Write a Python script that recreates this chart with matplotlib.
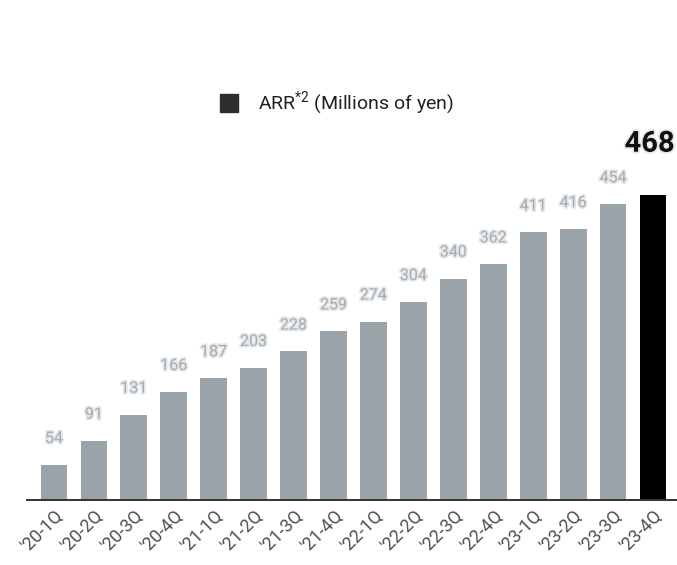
import matplotlib
matplotlib.use("Agg")
import matplotlib.pyplot as plt
import matplotlib.patheffects as pe
from matplotlib.patches import Rectangle

quarters = ["'20-1Q", "'20-2Q", "'20-3Q", "'20-4Q", "'21-1Q", "'21-2Q", "'21-3Q", "'21-4Q",
            "'22-1Q", "'22-2Q", "'22-3Q", "'22-4Q", "'23-1Q", "'23-2Q", "'23-3Q", "'23-4Q"]
arr = [54, 91, 131, 166, 187, 203, 228, 259, 274, 304, 340, 362, 411, 416, 454, 468]

plt.rcParams["font.family"] = ["Roboto", "DejaVu Sans"]
plt.rcParams["mathtext.fontset"] = "custom"
plt.rcParams["mathtext.rm"] = "Roboto"
plt.rcParams["mathtext.it"] = "Roboto"

fig = plt.figure(figsize=(6.77, 5.65), dpi=100)
ax = fig.add_axes([27 / 677, 65 / 565, 650 / 677, 456 / 565])

x = list(range(len(arr)))
colors = ["#9aa3a8"] * (len(arr) - 1) + ["#000000"]
ax.bar(x, arr, width=0.67, color=colors, zorder=2)

halo = [pe.withStroke(linewidth=2.5, foreground="#e4e7e9")]
for i, v in enumerate(arr):
    if i == len(arr) - 1:
        # latest quarter: large bold figure, nudged left to stay inside the figure
        ax.annotate(str(v), (i, v), xytext=(-2.5, 37), textcoords="offset points",
                    ha="center", va="center", fontsize=21, fontweight="bold", color="#111111",
                    path_effects=[pe.withStroke(linewidth=2.5, foreground="#e8e8e8")],
                    annotation_clip=False)
    else:
        ax.annotate(str(v), (i, v), xytext=(0, 19), textcoords="offset points",
                    ha="center", va="center", fontsize=11.5, color="#a4acb1",
                    path_effects=halo)

ax.set_xlim(-0.675, 15.6)
ax.set_ylim(0, 700)
ax.set_xticks(x)
ax.set_xticklabels(quarters, rotation=45, ha="right", rotation_mode="anchor",
                   fontsize=13, color="#505050")
ax.tick_params(axis="x", length=0, pad=5)
ax.set_yticks([])
for side in ["top", "right", "left"]:
    ax.spines[side].set_visible(False)
ax.spines["bottom"].set_color("#333333")
ax.spines["bottom"].set_linewidth(1.4)

# series key above the bars
fig.patches.append(Rectangle((220 / 677, 1 - 112 / 565), 18 / 677, 18 / 565,
                             transform=fig.transFigure, color="#2e2e2e"))
fig.text(258 / 677, 1 - 103 / 565, r"ARR$^{\mathrm{*2}}$ (Millions of yen)",
         fontsize=14, color="#222222", va="center", ha="left")

fig.savefig("out.png", dpi=100)
